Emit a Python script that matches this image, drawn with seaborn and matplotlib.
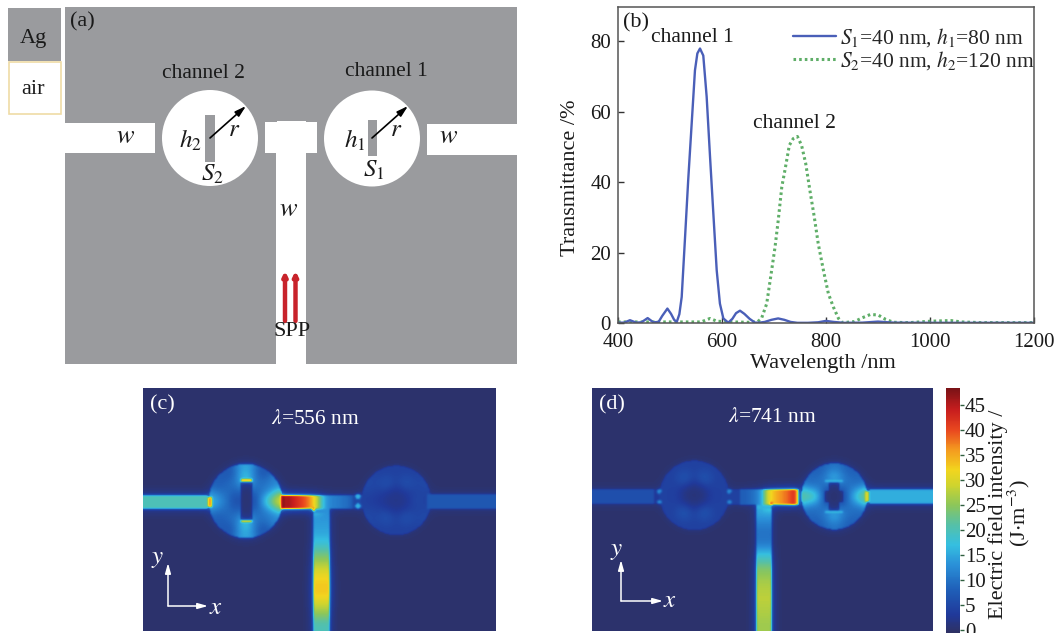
import numpy as np
import pandas as pd
import matplotlib
matplotlib.use("Agg")
import matplotlib.pyplot as plt
from matplotlib.colors import LinearSegmentedColormap
from matplotlib.patches import Rectangle, Circle
import seaborn as sns

sns.set_theme(style="ticks")
plt.rcParams["font.family"] = ["Liberation Serif", "DejaVu Serif"]
plt.rcParams["mathtext.fontset"] = "stix"

# ---------- data ----------
wl_ch1 = [400,412,423,435,445,457,468,478,485,495,502,508,513,518,522.5,529,535,541.7,548,552.6,557.7,564,570.5,577,583.4,589.8,596,602.6,612,620,627,634.6,643,653,663.5,672,682,695,708,720,732,745,765,785,800,815,835,870,900,930,1000,1100,1200]
t_ch1  = [0.1,0.1,0.8,0.1,0.2,1.4,0.2,0.3,2.0,4.1,2.6,0.9,0.3,2.5,7.4,24.5,40.6,56.7,71.8,76.6,78,76,64.3,47.2,31,15,5.5,1.3,0.1,1.2,2.8,3.5,2.6,1.2,0.1,0.1,0.3,0.9,1.3,0.9,0.3,0.05,0.05,0.2,0.6,0.3,0.05,0.1,0.4,0.1,0.05,0.05,0.05]
wl_ch2 = [400,500,560,577,590,620,650,668,676,686,695.5,702,708,715,721,729.5,737,745,753,761,769,777.6,785,795,804.5,814,824,830,840,855,870,885,900,915,930,960,1000,1040,1060,1100,1200]
t_ch2  = [0.3,0.3,0.3,1.3,0.5,0.3,0.2,0.3,1.3,5.5,15,21.6,29,38.7,43.4,50.5,52.4,53,50.5,45.3,37.7,30,22.6,15,8.4,4.6,1.3,0.2,0.2,0.4,1.5,2.4,2.3,1.0,0.2,0.1,0.5,0.7,0.3,0.1,0.1]
label_ch1 = r"$S_1$=40 nm, $h_1$=80 nm"
label_ch2 = r"$S_2$=40 nm, $h_2$=120 nm"
x_ticks = [400, 600, 800, 1000, 1200]
y_ticks = [0, 20, 40, 60, 80]
cbar_ticks = [0, 5, 10, 15, 20, 25, 30, 35, 40, 45]

# field readings, panel (c)
c_mid_edges = [425,440,455,470,485,500,515,530,545,560,580,600,620,640]
c_mid_vals  = [47,46,44,42,40,38,33,26,16,12,11,10,9]
c_stem_edges = [370,400,430,460,490,520,550,580,610,640,670,700,738]
c_stem_vals  = [13,14,15,18,23,27,31,33,33,29,25,20]
c_cav_outer = [30,12,7,15,7,8,16,8,7,15,7,12]
c_cav_mid   = [20,10,10,20,10,9,11,9,10,20,10,10]
c_cav_inner = [3,7,8,9,8,7,3,7,8,9,8,7]
c2_cav_outer = [4,5,4,4,4,5,4,5,4,4,4,5]
c2_cav_mid   = [5,4,7,4,7,4,3,4,7,4,7,4]
c2_cav_inner = [2,2,2,2,2,2,2,2,2,2,2,2]
c_left_val, c_right_val = 20, 7

# field readings, panel (d)
d_mid_edges = [450,470,490,510,525,540,560,580,600,615,630]
d_mid_vals  = [8,9,11,16,28,33,36,38,40,47]
d_stem_edges = [358,385,415,445,470,490,510,540,580,620,660,700,738]
d_stem_vals  = [16,13,10,10,11,16,20,25,27,28,27,26]
d_cav_outer = [24,9,8,10,8,9,22,9,8,10,8,9]
d_cav_mid   = [16,10,11,18,11,10,22,10,11,18,11,10]
d_cav_inner = [2,5,7,8,7,5,2,5,7,8,7,5]
d2_cav_outer = [4,4,4,4,4,4,4,4,4,4,4,4]
d2_cav_mid   = [4,4,8,4,8,4,4,4,8,4,8,4]
d2_cav_inner = [1,1,1,1,1,1,1,1,1,1,1,1]
d_left_val, d_right_val = 6, 15.5

cmap_values = [-0.6,3,8,13,17,21,25,29,32,36,40,44,48.4]
cmap_colors = ["#2e3163","#20399a","#1f5fb8","#2a90d8","#35bfe0","#55c0a8","#8cc65a",
               "#cfd42e","#f2d51e","#f49b1f","#e9481f","#c81e1e","#7a1216"]
V_MIN, V_MAX = cmap_values[0], cmap_values[-1]
heat_cmap = LinearSegmentedColormap.from_list(
    "field", [((v - V_MIN) / (V_MAX - V_MIN), c) for v, c in zip(cmap_values, cmap_colors)])

# ---------- helpers ----------
W, H = 1058, 633
fig = plt.figure(figsize=(W / 100, H / 100), dpi=100, facecolor="white")

def px_axes(l, t, r, b, **kw):
    return fig.add_axes([l / W, 1 - b / H, (r - l) / W, (b - t) / H], **kw)

def blur1d(a, sigma, axis):
    n = int(3 * sigma) + 1
    k = np.exp(-0.5 * (np.arange(-n, n + 1) / sigma) ** 2)
    k /= k.sum()
    pad = [(n, n) if i == axis else (0, 0) for i in range(2)]
    p = np.pad(a, pad, mode="edge")
    p = np.apply_along_axis(lambda m: np.convolve(m, k, mode="same"), axis, p)
    return p[n:-n, :] if axis == 0 else p[:, n:-n]

def blur(a, sigma):
    return blur1d(blur1d(a, sigma, 0), sigma, 1)

class Field:
    """Pixel raster of a panel; coordinates are 3x-zoom crop coordinates."""
    def __init__(self, x0, x1, y0, y1):
        nx, ny = int(round((x1 - x0) / 3)), int(round((y1 - y0) / 3))
        self.f = np.zeros((ny, nx))
        self.X, self.Y = np.meshgrid(x0 + 3 * np.arange(nx) + 1.5, y0 + 3 * np.arange(ny) + 1.5)
    def mask(self, x0, x1, y0, y1):
        return (self.X >= x0) & (self.X < x1) & (self.Y >= y0) & (self.Y < y1)
    def rect(self, x0, x1, y0, y1, v):
        self.f[self.mask(x0, x1, y0, y1)] = v
    def run_x(self, edges, y0, y1, vals):
        for a, b, v in zip(edges[:-1], edges[1:], vals):
            self.rect(a, b, y0, y1, v)
        m = self.mask(edges[0] + 12, edges[-1], y0, y1)
        self.f[m] = blur1d(self.f, 3, 1)[m]
    def run_y(self, edges, x0, x1, vals):
        for a, b, v in zip(edges[:-1], edges[1:], vals):
            self.rect(x0, x1, a, b, v)
        m = self.mask(x0, x1, edges[0] + 12, edges[-1])
        self.f[m] = blur1d(self.f, 5, 0)[m]
    def spot(self, cx, cy, r, v):
        self.f[np.hypot(self.X - cx, self.Y - cy) < r] = v
    def cavity(self, cx, cy, r, outer, mid, inner):
        d = np.hypot(self.X - cx, self.Y - cy) / r
        a = np.degrees(np.arctan2(-(self.Y - cy), self.X - cx)) % 360
        s = (((a + 15) // 30) % 12).astype(int)
        tmp = np.where(d > 0.72, np.array(outer)[s], np.where(d > 0.40, np.array(mid)[s], np.array(inner)[s]))
        tmp = blur(tmp.astype(float), 5)
        self.f[d < 1] = tmp[d < 1]
    def finish(self):
        return np.maximum.reduce([blur(self.f, 1.0), 0.6 * blur(self.f, 2.5), 0.3 * blur(self.f, 5)])

# panel (c) raster
fc = Field(10, 1068, 8, 738)
fc.rect(10, 205, 328, 370, c_left_val)
fc.cavity(318, 347, 112, c_cav_outer, c_cav_mid, c_cav_inner)
fc.rect(305, 338, 285, 408, 0)
fc.rect(305, 338, 282, 289, 35)
fc.rect(305, 338, 404, 411, 35)
fc.rect(205, 216, 335, 365, 36)
fc.rect(640, 672, 328, 372, 5)
fc.run_x(c_mid_edges, 328, 372, c_mid_vals)
fc.run_y(c_stem_edges, 520, 572, c_stem_vals)
fc.rect(516, 526, 364, 376, 36)
fc.cavity(770, 345, 105, c2_cav_outer, c2_cav_mid, c2_cav_inner)
fc.spot(655, 333, 8, 16)
fc.spot(655, 362, 8, 16)
fc.rect(862, 1068, 325, 370, c_right_val)
field_c = fc.finish()

# panel (d) raster
fd = Field(5, 1030, 8, 738)
fd.rect(5, 215, 312, 355, d_left_val)
fd.rect(190, 215, 312, 355, 3)
fd.rect(410, 452, 312, 358, 4)
fd.cavity(312, 330, 105, d2_cav_outer, d2_cav_mid, d2_cav_inner)
fd.spot(207, 318, 7, 12)
fd.spot(207, 350, 7, 12)
fd.spot(417, 318, 7, 12)
fd.spot(417, 350, 7, 12)
fd.run_x(d_mid_edges, 312, 358, d_mid_vals)
fd.run_y(d_stem_edges, 497, 547, d_stem_vals)
fd.rect(542, 552, 350, 360, 40)
fd.cavity(735, 333, 100, d_cav_outer, d_cav_mid, d_cav_inner)
fd.rect(720, 750, 292, 375, 0)
fd.rect(708, 762, 318, 350, 0)
fd.rect(708, 762, 283, 289, 17)
fd.rect(708, 762, 377, 383, 17)
fd.rect(838, 1030, 312, 355, d_right_val)
fd.rect(826, 838, 318, 350, 30)
field_d = fd.finish()

# ---------- background layer: schematic (a) ----------
bg = fig.add_axes([0, 0, 1, 1], zorder=0)
bg.set_xlim(0, W); bg.set_ylim(H, 0); bg.axis("off")
GRAY, AIR = "#9a9b9e", "white"

def rect(ax, x0, y0, x1, y1, fc, ec="none", lw=0):
    ax.add_patch(Rectangle((x0, y0), x1 - x0, y1 - y0, fc=fc, ec=ec, lw=lw))

rect(bg, 65, 7, 517, 364, GRAY)
rect(bg, 8, 8, 61, 61, GRAY)
rect(bg, 8.5, 61.5, 61, 114, "white", ec="#efdca6", lw=1.2)
rect(bg, 65, 123, 155, 153, AIR)
rect(bg, 265, 122, 317, 153, AIR)
rect(bg, 277, 121, 306, 130, AIR)
rect(bg, 276, 153, 306, 385, AIR)
rect(bg, 427, 124, 517, 155, AIR)
bg.add_patch(Circle((210, 138), 48, fc=AIR, ec="none"))
bg.add_patch(Circle((372, 138.5), 48, fc=AIR, ec="none"))
rect(bg, 205, 115, 214.5, 162, GRAY)
rect(bg, 368, 119.5, 377, 156, GRAY)

for cx0, cy0, cx1, cy1 in [(210, 138, 246, 106), (372, 138, 408, 106)]:
    bg.annotate("", xy=(cx1, cy1), xytext=(cx0, cy0),
                arrowprops=dict(arrowstyle="-|>,head_width=0.16,head_length=0.55", color="black", lw=1.2,
                                shrinkA=0, shrinkB=0))
for ax_x in (285, 295.5):
    bg.annotate("", xy=(ax_x, 271), xytext=(ax_x, 321),
                arrowprops=dict(arrowstyle="-|>,head_width=0.1,head_length=0.2", color="#c8232b", lw=3.2,
                                shrinkA=0, shrinkB=0))

# ---------- panel (b) ----------
ax_b = px_axes(618, 7, 1034, 323, zorder=2)
df1 = pd.DataFrame({"wavelength": wl_ch1, "transmittance": t_ch1})
df2 = pd.DataFrame({"wavelength": wl_ch2, "transmittance": t_ch2})
sns.lineplot(data=df2, x="wavelength", y="transmittance", ax=ax_b, color="#5fae68", lw=2.2,
             linestyle=(0, (0.85, 1.0)), label=label_ch2, errorbar=None, sort=False)
sns.lineplot(data=df1, x="wavelength", y="transmittance", ax=ax_b, color="#4a5fb8", lw=1.7,
             label=label_ch1, errorbar=None, sort=False)
ax_b.set_xlim(400, 1200); ax_b.set_ylim(0, 89.8)
ax_b.set_xticks(x_ticks); ax_b.set_yticks(y_ticks)
ax_b.tick_params(direction="in", length=4, width=1, labelsize=15, color="#333333", labelcolor="#1a1a1a")
ax_b.tick_params(axis="x", pad=7)
ax_b.tick_params(axis="y", pad=5)
ax_b.set_xlabel("Wavelength /nm", fontsize=16, color="#1a1a1a")
ax_b.set_ylabel("Transmittance /%", fontsize=16, color="#1a1a1a")
ax_b.xaxis.set_label_coords(0.493, -0.098)
ax_b.yaxis.set_label_coords(-0.092, 0.459)
for s in ax_b.spines.values():
    s.set_color("#555555"); s.set_linewidth(1.1); s.set_visible(True)
h, l = ax_b.get_legend_handles_labels()
ax_b.legend(h[::-1], l[::-1], loc="upper left", bbox_to_anchor=(0.42, 0.94), frameon=False, fontsize=15.5,
            handlelength=2.0, handletextpad=0.2, labelspacing=0.03, borderpad=0, borderaxespad=0)
ax_b.patch.set_alpha(0)

# ---------- panels (c), (d) ----------
ax_c = px_axes(143, 388, 496, 631, zorder=2)
sns.heatmap(field_c, ax=ax_c, cmap=heat_cmap, vmin=V_MIN, vmax=V_MAX, cbar=False,
            xticklabels=False, yticklabels=False, rasterized=True)
ax_d = px_axes(592, 388, 933, 631, zorder=2)
cax = px_axes(946, 388, 960, 633, zorder=2)
sns.heatmap(field_d, ax=ax_d, cmap=heat_cmap, vmin=V_MIN, vmax=V_MAX, cbar=True, cbar_ax=cax,
            xticklabels=False, yticklabels=False, rasterized=True)
cax.set_yticks(cbar_ticks)
cax.set_yticklabels([str(v) for v in cbar_ticks])
cax.tick_params(axis="y", length=3, width=1, labelsize=15, pad=0.5, color="#2f5f3f", labelcolor="#1a1a1a")
ax_d.collections[0].colorbar.outline.set_visible(False)

# ---------- text layer ----------
top = fig.add_axes([0, 0, 1, 1], zorder=5)
top.set_xlim(0, W); top.set_ylim(H, 0); top.axis("off"); top.patch.set_alpha(0)

def T(x, y, s, size=15.5, color="#1a1a1a", **kw):
    top.text(x, y, s, fontsize=size, color=color, ha="center", va="center", **kw)

T(33, 39, "Ag", 16); T(33, 90, "air", 16)
T(82, 22, "(a)", 16)
T(203, 73, "channel 2"); T(386, 72, "channel 1")
T(126, 137, r"$w$", 19); T(289, 210, r"$w$", 19); T(449, 137, r"$w$", 19)
T(190, 140, r"$h_2$", 18); T(355, 140, r"$h_1$", 18)
T(234, 130, r"$r$", 18); T(396, 130, r"$r$", 18)
T(212, 174, r"$S_2$", 18); T(374, 170, r"$S_1$", 18)
T(292, 331, "SPP", 16)
T(636, 23, "(b)", 16)
T(692, 37, "channel 1"); T(794, 124, "channel 2")
T(162, 405, "(c)", 16, color="white"); T(316, 420, r"$\lambda$=556 nm", color="white")
T(612, 405, "(d)", 16, color="white"); T(773, 418, r"$\lambda$=741 nm", color="white")
T(158, 559, r"$y$", 18, color="white"); T(216, 608, r"$x$", 18, color="white")
T(617, 551, r"$y$", 18, color="white"); T(670, 601, r"$x$", 18, color="white")
T(998, 514, "Electric field intensity /", 16, rotation=90)
T(1019, 513, r"(J$\cdot$m$^{-3}$)", 16, rotation=90)

for (ox, oy, xe, ye) in [(168, 606, 208, 563), (621, 601, 663, 560)]:
    top.annotate("", xy=(xe, oy), xytext=(ox, oy),
                 arrowprops=dict(arrowstyle="-|>,head_width=0.14,head_length=0.5", color="white", lw=1.1, shrinkA=0, shrinkB=0))
    top.annotate("", xy=(ox, ye), xytext=(ox, oy),
                 arrowprops=dict(arrowstyle="-|>,head_width=0.14,head_length=0.5", color="white", lw=1.1, shrinkA=0, shrinkB=0))

fig.savefig("out.png", dpi=100, facecolor="white")
